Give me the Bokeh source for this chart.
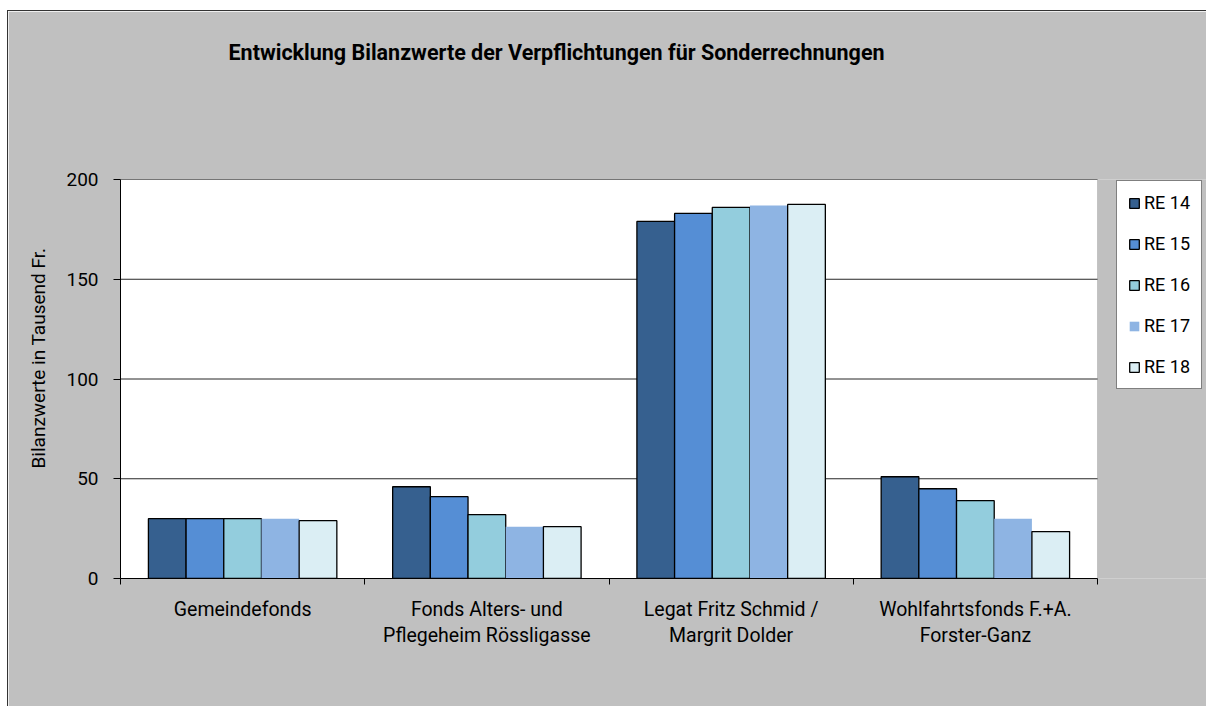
from bokeh.plotting import figure
from bokeh.models import (FixedTicker, Legend, LegendItem, Range1d, ColumnDataSource,
                          BoxAnnotation, Title)
from bokeh.embed import file_html
from bokeh.resources import INLINE

categories = ["Gemeindefonds", "Fonds Alters- und\nPflegeheim Rössligasse",
              "Legat Fritz Schmid /\nMargrit Dolder", "Wohlfahrtsfonds F.+A.\nForster-Ganz"]
series = ["RE 14", "RE 15", "RE 16", "RE 17", "RE 18"]
re14 = [30, 46, 179, 51]
re15 = [30, 41, 183, 45]
re16 = [30, 32, 186, 39]
re17 = [30, 26, 187, 30]
re18 = [29, 26, 187.5, 23.5]
values = [re14, re15, re16, re17, re18]
colors = ["#36608F", "#558ED5", "#93CDDD", "#8EB4E3", "#DBEEF4"]
outlines = ["black", "black", "black", None, "black"]
y_ticks = [0, 50, 100, 150, 200]

FONT = "Roboto"
GRAY = "#C0C0C0"
n = len(categories)

# frame spans plot area plus legend strip on the right
FRAME_LEFT, FRAME_RIGHT, PLOT_RIGHT = 120, 1207, 1097
x_end = n * (FRAME_RIGHT - FRAME_LEFT) / (PLOT_RIGHT - FRAME_LEFT)

p = figure(width=1199, height=696, output_backend="svg", toolbar_location=None,
           x_range=Range1d(0, x_end), y_range=Range1d(0, 200),
           min_border_left=112, min_border_right=0, min_border_top=168, min_border_bottom=129,
           background_fill_color=GRAY, border_fill_color=GRAY,
           outline_line_color=None)
p.styles = {"margin-left": "7px", "margin-top": "10px",
            "border-left": "1px solid #333333", "border-top": "1px solid #333333"}

# white plot area
p.add_layout(BoxAnnotation(left=0, right=n, bottom=0, top=200, fill_color="white",
                           fill_alpha=1, line_color="#808080", line_width=1, level="underlay"))

# title (spacer title keeps it high above the plot area)
p.title.text = "Entwicklung Bilanzwerte der Verpflichtungen für Sonderrechnungen"
p.title.text_font = FONT
p.title.text_font_size = "21.5px"
p.title.text_font_style = "bold"
p.title.text_color = "black"
p.title.align = "left"
p.title.offset = 108
p.title.standoff = 10
p.add_layout(Title(text=" ", text_font_size="10px", standoff=97), "above")

# grid lines limited to plot area
gy = y_ticks[1:]
p.segment(x0=[0] * len(gy), x1=[n] * len(gy), y0=gy, y1=gy, line_color="black",
          line_width=1, line_alpha=0.85)

bw = 0.1543
items = []
for k, (name, vals) in enumerate(zip(series, values)):
    xs = [i + 0.5 + (k - 2) * bw for i in range(n)]
    src = ColumnDataSource(dict(x=xs, top=vals))
    r = p.vbar(x="x", top="top", width=bw, bottom=0, source=src,
               fill_color=colors[k], line_color=outlines[k], line_width=1.3)
    items.append(LegendItem(label=name, renderers=[r]))

legend = Legend(items=items, location=(996, 189), orientation="vertical",
                label_text_font=FONT, label_text_font_size="18px", label_text_color="black",
                glyph_width=12, glyph_height=12, label_height=20, label_standoff=4,
                spacing=20, padding=11, margin=0,
                border_line_color="black", border_line_width=1,
                background_fill_color="white", background_fill_alpha=1)
p.add_layout(legend, "center")

# x axis
p.xaxis.bounds = (0, n)
p.xaxis.ticker = FixedTicker(ticks=[i + 0.5 for i in range(n)], minor_ticks=list(range(n + 1)))
p.xaxis.major_label_overrides = {i + 0.5: c for i, c in enumerate(categories)}
p.xaxis.major_tick_out = 0
p.xaxis.major_tick_in = 0
p.xaxis.minor_tick_out = 6
p.xaxis.minor_tick_in = 0
p.xaxis.minor_tick_line_color = "black"
p.xaxis.axis_line_color = "black"
p.xaxis.major_label_text_font = FONT
p.xaxis.major_label_text_font_size = "19.5px"
p.xaxis.major_label_text_color = "black"
p.xaxis.major_label_text_line_height = 1.17
p.xaxis.major_label_standoff = 13

# y axis
p.yaxis.ticker = FixedTicker(ticks=y_ticks, minor_ticks=[])
p.yaxis.major_tick_out = 7
p.yaxis.major_tick_in = 0
p.yaxis.major_tick_line_color = "black"
p.yaxis.axis_line_color = "black"
p.yaxis.major_label_text_font = FONT
p.yaxis.major_label_text_font_size = "19px"
p.yaxis.major_label_text_color = "black"
p.yaxis.major_label_standoff = 15

ylab = Title(text="Bilanzwerte in Tausend Fr.", text_font=FONT, text_font_size="19px",
             text_font_style="normal", text_color="black", align="left", offset=110,
             standoff=28)
p.add_layout(ylab, "left")

p.xgrid.visible = False
p.ygrid.visible = False

open("out.html", "w").write(file_html(p, INLINE))
